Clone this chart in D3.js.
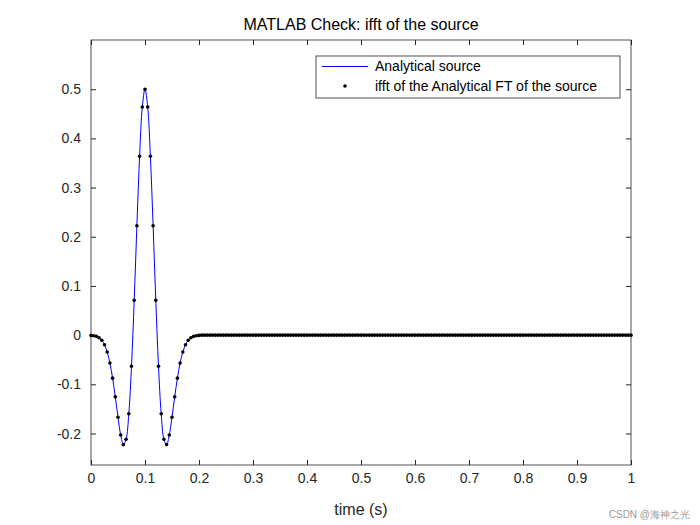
<!DOCTYPE html>
<html>
<head>
<meta charset="utf-8">
<script src="https://cdn.jsdelivr.net/npm/d3@7"></script>
<style>
  body { margin: 0; background: #fff; }
  text { font-family: "Liberation Sans", Arial, sans-serif; }
</style>
</head>
<body>
<div id="chart"></div>
<script>
// sample step (s)
const dt = 0.005;
// wavelet samples from t = 0 to t = 0.2
const pulseValues = [
  -0.0005, -0.0011, -0.0025, -0.0053, -0.0105, -0.0196, -0.0344, -0.0567, -0.0874, -0.1255,
  -0.1669, -0.2031, -0.2225, -0.2116, -0.1597, -0.0631, 0.0709, 0.2225, 0.3636, 0.4637,
  0.5,
  0.4637, 0.3636, 0.2225, 0.0709, -0.0631, -0.1597, -0.2116, -0.2225, -0.2031, -0.1669,
  -0.1255, -0.0874, -0.0567, -0.0344, -0.0196, -0.0105, -0.0053, -0.0025, -0.0011, -0.0005
];
// flat tail after the pulse, t = 0.205 .. 1
const tailValues = new Array(160).fill(0);
const xTicks = [0, 0.1, 0.2, 0.3, 0.4, 0.5, 0.6, 0.7, 0.8, 0.9, 1];
const yTicks = [-0.2, -0.1, 0, 0.1, 0.2, 0.3, 0.4, 0.5];

const data = pulseValues.concat(tailValues).map((v, i) => ({t: i * dt, y: v}));

const W = 700, H = 525;
const margin = {top: 40, right: 69, bottom: 60, left: 91};
const width = W - margin.left - margin.right;
const height = H - margin.top - margin.bottom;

const svg = d3.select("#chart").append("svg").attr("width", W).attr("height", H);
const g = svg.append("g").attr("transform", `translate(${margin.left},${margin.top})`);

const x = d3.scaleLinear().domain([0, 1]).range([0, width]);
const y = d3.scaleLinear().domain([-0.264, 0.6]).range([height, 0]);

const fmt = d => d === 0 ? "0" : String(d);
const tk = 5;

function styleAxis(sel) {
  sel.select(".domain").remove();
  sel.selectAll("line").attr("stroke", "#262626");
  sel.selectAll("text").attr("fill", "#262626").attr("font-size", 14);
}

g.append("g").attr("transform", `translate(0,${height})`)
  .call(d3.axisBottom(x).tickValues(xTicks).tickFormat(fmt).tickSizeInner(-tk).tickSizeOuter(0).tickPadding(8))
  .call(styleAxis);
g.append("g")
  .call(d3.axisTop(x).tickValues(xTicks).tickFormat("").tickSizeInner(-tk).tickSizeOuter(0))
  .call(styleAxis);
g.append("g")
  .call(d3.axisLeft(y).tickValues(yTicks).tickFormat(fmt).tickSizeInner(-tk).tickSizeOuter(0).tickPadding(10))
  .call(styleAxis);
g.append("g").attr("transform", `translate(${width},0)`)
  .call(d3.axisRight(y).tickValues(yTicks).tickFormat("").tickSizeInner(-tk).tickSizeOuter(0))
  .call(styleAxis);

g.append("rect").attr("width", width).attr("height", height)
  .attr("fill", "none").attr("stroke", "#262626").attr("stroke-width", 0.8);

const line = d3.line().x(d => x(d.t)).y(d => y(d.y)).curve(d3.curveCatmullRom);
g.append("path").datum(data).attr("d", line)
  .attr("fill", "none").attr("stroke", "#0000ff").attr("stroke-width", 1);

g.selectAll(".dot").data(data).enter().append("circle")
  .attr("class", "dot")
  .attr("cx", d => x(d.t)).attr("cy", d => y(d.y)).attr("r", 1.8)
  .attr("fill", "#000");

// title and label
svg.append("text").attr("x", margin.left + width / 2).attr("y", 30)
  .attr("text-anchor", "middle").attr("font-size", 16).attr("fill", "#000")
  .text("MATLAB Check: ifft of the source");
svg.append("text").attr("x", margin.left + width / 2).attr("y", 515)
  .attr("text-anchor", "middle").attr("font-size", 16).attr("fill", "#262626")
  .text("time (s)");

// legend
const lg = svg.append("g").attr("transform", "translate(316,56)");
lg.append("rect").attr("width", 304).attr("height", 42)
  .attr("fill", "#fff").attr("stroke", "#262626").attr("stroke-width", 0.8);
lg.append("line").attr("x1", 6).attr("x2", 52).attr("y1", 10.5).attr("y2", 10.5)
  .attr("stroke", "#0000ff");
lg.append("circle").attr("cx", 29).attr("cy", 30).attr("r", 1.8).attr("fill", "#000");
lg.append("text").attr("x", 59).attr("y", 15).attr("font-size", 14).text("Analytical source");
lg.append("text").attr("x", 59).attr("y", 35).attr("font-size", 14).text("ifft of the Analytical FT of the source");

svg.append("text").attr("x", 690).attr("y", 518).attr("text-anchor", "end")
  .attr("font-size", 10).attr("fill", "#999").text("CSDN @海神之光");
</script>
</body>
</html>
